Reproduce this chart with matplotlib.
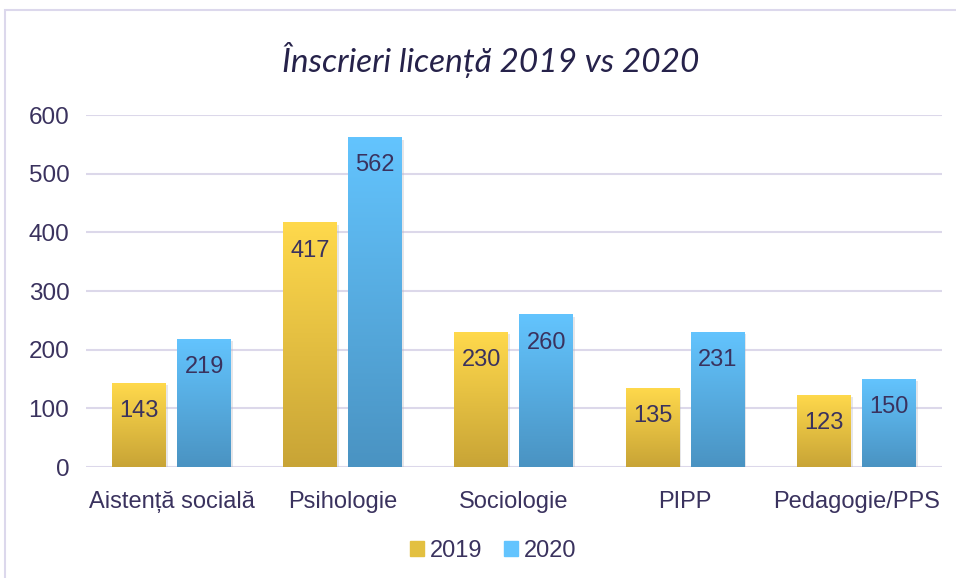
import numpy as np
import matplotlib.pyplot as plt
from matplotlib.colors import LinearSegmentedColormap
from matplotlib.patches import Rectangle

categories = ['Aistență socială', 'Psihologie', 'Sociologie', 'PIPP', 'Pedagogie/PPS']
v2019 = [143, 417, 230, 135, 123]
v2020 = [219, 562, 260, 231, 150]
series = ['2019', '2020']

txt = '#3a325e'
grid = '#dcd8ea'
grad = {'2019': ('#ffd94c', '#c8a436'), '2020': ('#63c4fe', '#4a93c2')}

plt.rcParams['font.family'] = ['Liberation Sans', 'DejaVu Sans']

fig = plt.figure(figsize=(9.56, 5.78), dpi=100)
# chart frame
fig.patches.append(Rectangle((5 / 956, -0.1), 1.2, 1 - 10 / 578 + 0.1, transform=fig.transFigure,
                             fill=False, ec='#dcd8ec', lw=1.5))
ax = fig.add_axes([0.09, 0.192, 0.895, 0.609])

x = np.arange(len(categories))
w = 0.315
off = 0.19
grad_img = np.linspace(1, 0, 256).reshape(-1, 1)
for vals, name, dx in [(v2019, '2019', -off), (v2020, '2020', off)]:
    cmap = LinearSegmentedColormap.from_list(name, [grad[name][1], grad[name][0]])
    bars = ax.bar(x + dx, vals, w, color=grad[name][0], label=name, zorder=3)
    for b, v in zip(bars, vals):
        b.set_facecolor('none')
        bx, by = b.get_x(), b.get_y()
        bw, bh = b.get_width(), b.get_height()
        # soft shadow
        ax.add_patch(Rectangle((bx + 0.012, by - 4), bw, bh, color='#b8b8c0', alpha=0.35, zorder=2, lw=0))
        im = ax.imshow(grad_img, cmap=cmap, extent=[bx, bx + bw, by, by + bh], aspect='auto', zorder=3)
        im.set_clip_path(b)
        ax.text(bx + bw / 2, v - 48, str(v), ha='center', va='center', fontsize=17, color=txt, zorder=4)

ax.set_xlim(-0.5, 4.5)
ax.set_ylim(0, 600)
ax.set_yticks(range(0, 601, 100))
ax.set_xticks(x)
ax.set_xticklabels(categories)
ax.grid(axis='y', color=grid, lw=1.5, zorder=0)
ax.tick_params(length=0, labelsize=17, colors=txt)
ax.tick_params(axis='x', pad=17)
ax.tick_params(axis='y', pad=12, labelsize=17.5)
for s in ax.spines.values():
    s.set_visible(False)

handles = [Rectangle((0, 0), 1, 1, color=grad[n][0]) for n in series]
handles[0].set_color('#e3c040')
fig.legend(handles, series, loc='center', bbox_to_anchor=(0.516, 0.047), ncol=2, frameon=False,
           fontsize=17, labelcolor=txt, handlelength=0.6, handleheight=0.6, handletextpad=0.25,
           columnspacing=0.9)

fig.text(0.513, 0.897, 'Înscrieri licență 2019 vs 2020', ha='center', va='center', fontsize=24,
         style='italic', color='#26224a', family=['Lato', 'DejaVu Sans'])

fig.savefig('out.png', dpi=100)
